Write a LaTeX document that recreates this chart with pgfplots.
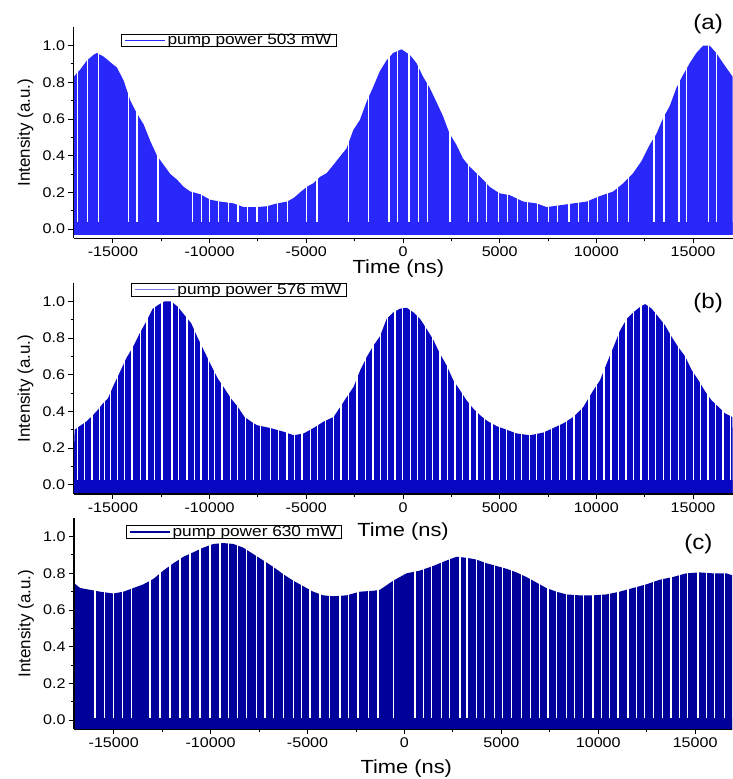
\documentclass[border=0pt]{standalone}
\usepackage{fontspec}
\setmainfont{Liberation Sans}
\newfontfamily\stf{Liberation Sans}[FakeStretch=1.15]
\usepackage{pgfplots}
\pgfplotsset{compat=1.18}
\definecolor{ca}{RGB}{40,40,250}
\definecolor{cb}{RGB}{8,8,195}
\definecolor{cc}{RGB}{0,0,155}

\pgfplotsset{
  panel/.style={
    scale only axis, width=659pt, height=211pt, anchor=south west,
    ymin=-0.05, ymax=1.1,
    clip mode=individual,
    axis x line=bottom, axis y line=left,
    axis line style={-, line width=1.2pt},
    axis on top,
    tick align=outside, major tick length=5pt, minor tick length=3pt,
    tick style={line width=1pt, black},
    xtick={-15000,-10000,-5000,0,5000,10000,15000}, minor x tick num=1,
    ytick={0,0.2,0.4,0.6,0.8,1.0}, minor y tick num=1,
    scaled x ticks=false,
    xticklabel style={/pgf/number format/1000 sep={}},
    yticklabel style={/pgf/number format/.cd, fixed, fixed zerofill, precision=1},
    /pgf/number format/assume math mode=true,
    ticklabel style={font=\fontsize{14}{16}\stf},
    xlabel={Time (ns)}, ylabel={Intensity (a.u.)},
    xlabel style={font=\fontsize{19}{21}\stf, anchor=center},
    ylabel style={font=\fontsize{17}{19}\selectfont, at={(axis description cs:-0.073,0.5)}, anchor=center},
    legend cell align=left,
    legend style={anchor=north west, draw=black, line width=0.9pt,
      font=\fontsize{15}{16}\stf, inner xsep=3pt, inner ysep=0pt,
      nodes={inner xsep=2pt, inner ysep=0.3pt}},
  },
  gap/.style={ycomb, white, line width=1.3pt, forget plot},
}

\begin{document}
\begin{tikzpicture}
\useasboundingbox (0,0) rectangle (733pt,779pt);

% ---------------- (a) 503 mW
\begin{axis}[panel, at={(73.5pt,540.7pt)}, xmin=-17040, xmax=17040,
  xlabel style={at={(axis description cs:0.493,-0.142)}},
  legend style={at={(axis description cs:0.072,0.97)}}]
\addplot[fill=ca, draw=none, forget plot] coordinates {
(-17100,-0.03)
(-17030,0.83) (-16690,0.87) (-16340,0.92) (-16000,0.95) (-15830,0.96) (-15480,0.94)
(-15140,0.91) (-14790,0.88) (-14450,0.81) (-14100,0.70) (-13760,0.63) (-13410,0.57)
(-13070,0.48) (-12720,0.40) (-12380,0.35) (-12030,0.30) (-11690,0.27) (-11340,0.23)
(-11000,0.205) (-10480,0.19) (-9970,0.16) (-9450,0.15) (-8760,0.14) (-8240,0.12)
(-7550,0.12) (-7030,0.125) (-6520,0.14) (-6000,0.15) (-5650,0.17) (-5325,0.20)
(-4980,0.23) (-4640,0.25) (-4290,0.285) (-3950,0.305) (-3600,0.35) (-3260,0.395)
(-2920,0.44) (-2570,0.54) (-2230,0.595) (-1880,0.695) (-1540,0.775) (-1200,0.86)
(-850,0.92) (-510,0.96) (-80,0.98) (350,0.95) (695,0.905) (1040,0.83) (1380,0.77)
(1720,0.695) (2070,0.615) (2410,0.52) (2760,0.46) (3100,0.385) (3450,0.34)
(3790,0.305) (4140,0.27) (4480,0.23) (5000,0.195) (5520,0.185) (6220,0.15)
(6910,0.14) (7430,0.12) (8117,0.13) (8800,0.14) (9490,0.15) (10180,0.18)
(10870,0.205) (11390,0.25) (11900,0.305) (12330,0.37) (12760,0.46) (13110,0.52)
(13450,0.605) (13790,0.67) (14140,0.77) (14480,0.84) (14830,0.905) (15170,0.96)
(15520,1.00) (15860,1.00) (16200,0.96) (16550,0.905) (17050,0.83)
(17100,-0.03)
};
\addplot[gap] coordinates {
(-16820,1.05) (-16310,1.05) (-15740,1.05) (-14190,1.05) (-13760,1.05) (-12670,1.05)
(-10880,1.05) (-10430,1.05) (-10020,1.05) (-9530,1.05) (-9020,1.05) (-8530,1.05)
(-8030,1.05) (-7550,1.05) (-7000,1.05) (-6480,1.05) (-5970,1.05) (-5000,1.05)
(-4450,1.05) (-2810,1.05) (-1780,1.05) (-720,1.05) (-280,1.05) (310,1.05) (790,1.05)
(1280,1.05) (2430,1.05) (3380,1.05) (3840,1.05) (4330,1.05) (4930,1.05) (5410,1.05)
(5910,1.05) (6430,1.05) (6950,1.05) (7520,1.05) (7980,1.05) (8590,1.05) (9070,1.05)
(9590,1.05) (10050,1.05) (10590,1.05) (11090,1.05) (11650,1.05) (12980,1.05)
(13500,1.05) (14270,1.05) (14670,1.05) (15790,1.05) (16220,1.05)
};
\addplot[fill=ca, draw=none, forget plot] coordinates {
(-17100,-0.03) (-17100,0.04) (17100,0.04) (17100,-0.03)
};
\addlegendimage{legend image code/.code={\draw[ca, line width=1.2pt] (0pt,0pt) -- (40pt,0pt);}}
\addlegendentry{pump power 503 mW}
\node[font=\fontsize{21}{23}\stf] at (axis description cs:0.963,1.017) {(a)};
\end{axis}

% ---------------- (b) 576 mW
\begin{axis}[panel, at={(73.5pt,285pt)}, xmin=-17040, xmax=17040,
  xlabel style={at={(axis description cs:0.50,-0.176)}},
  legend style={at={(axis description cs:0.087,1.0)}}]
\addplot[fill=cb, draw=none, forget plot] coordinates {
(-17100,-0.06)
(-16980,0.30) (-16720,0.32) (-16380,0.345) (-16030,0.38) (-15770,0.41) (-15510,0.445)
(-15260,0.47) (-15000,0.535) (-14660,0.61) (-14310,0.69) (-13970,0.75) (-13620,0.825)
(-13280,0.89) (-12940,0.96) (-12590,0.985) (-12330,1.00) (-11990,1.00) (-11640,0.97)
(-11300,0.925) (-10950,0.88) (-10610,0.80) (-10260,0.725) (-9920,0.65) (-9580,0.58)
(-9230,0.525) (-8890,0.47) (-8540,0.425) (-8200,0.37) (-7860,0.345) (-7550,0.325)
(-6880,0.31) (-6190,0.29) (-5650,0.27) (-5140,0.28) (-4620,0.31) (-4100,0.345)
(-3590,0.37) (-3240,0.425) (-2900,0.48) (-2550,0.535) (-2210,0.625) (-1860,0.70)
(-1520,0.76) (-1190,0.81) (-845,0.905) (-500,0.94) (-155,0.96) (190,0.965) (535,0.94)
(880,0.905) (1220,0.85) (1570,0.79) (1910,0.715) (2260,0.65) (2600,0.57) (2950,0.515)
(3290,0.46) (3640,0.415) (3980,0.38) (4330,0.35) (4840,0.32) (5360,0.30) (5880,0.28)
(6570,0.27) (7260,0.285) (7780,0.31) (8290,0.335) (8810,0.37) (9330,0.425)
(9840,0.515) (10190,0.57) (10530,0.66) (10880,0.75) (11220,0.84) (11570,0.905)
(11910,0.94) (12260,0.97) (12520,0.985) (12860,0.96) (13210,0.915) (13550,0.87)
(13900,0.805) (14240,0.75) (14590,0.70) (14930,0.625) (15280,0.57) (15620,0.51)
(15960,0.46) (16310,0.425) (16650,0.39) (17030,0.37)
(17100,-0.06)
};
\addplot[gap] coordinates {
(-16826,1.05) (-16481,1.05) (-16085,1.05) (-15706,1.05) (-15430,1.05) (-15137,1.05)
(-14757,1.05) (-14395,1.05) (-14016,1.05) (-13585,1.05) (-13240,1.05) (-12861,1.05)
(-12465,1.05) (-11947,1.05) (-11602,1.05) (-11172,1.05) (-10775,1.05) (-10447,1.05)
(-10051,1.05) (-9741,1.05) (-9361,1.05) (-8930,1.05) (-8551,1.05) (-8155,1.05)
(-7724,1.05) (-7379,1.05) (-6862,1.05) (-6431,1.05) (-6000,1.05) (-5620,1.05)
(-5224,1.05) (-4793,1.05) (-4413,1.05) (-4017,1.05) (-3586,1.05) (-3207,1.05)
(-2810,1.05) (-2379,1.05) (-1948,1.05) (-1552,1.05) (-1170,1.05) (-790,1.05)
(-410,1.05) (-20,1.05) (380,1.05) (750,1.05) (1150,1.05) (1520,1.05) (1920,1.05)
(2290,1.05) (2690,1.05) (3060,1.05) (3460,1.05) (3830,1.05) (4230,1.05) (4600,1.05)
(5000,1.05) (5370,1.05) (5770,1.05) (6140,1.05) (6540,1.05) (6910,1.05) (7310,1.05)
(7680,1.05) (8080,1.05) (8450,1.05) (8850,1.05) (9220,1.05) (9620,1.05) (9990,1.05)
(10390,1.05) (10760,1.05) (11160,1.05) (11530,1.05) (11930,1.05) (12300,1.05)
(12700,1.05) (13070,1.05) (13470,1.05) (13840,1.05) (14240,1.05) (14610,1.05)
(15010,1.05) (15380,1.05) (15780,1.05) (16150,1.05) (16550,1.05) (16920,1.05)
};
\addplot[fill=cb, draw=none, forget plot] coordinates {
(-17100,-0.06) (-17100,0.025) (17100,0.025) (17100,-0.06)
};
\addlegendimage{legend image code/.code={\draw[cb!55, line width=1.2pt] (0pt,0pt) -- (40pt,0pt);}}
\addlegendentry{pump power 576 mW}
\node[font=\fontsize{21}{23}\stf] at (axis description cs:0.963,0.905) {(b)};
\end{axis}

% ---------------- (c) 630 mW
\begin{axis}[panel, at={(74pt,49.7pt)}, xmin=-17050, xmax=16900,
  width=658pt,
  xlabel style={at={(axis description cs:0.505,-0.184)}},
  legend style={at={(axis description cs:0.079,0.967)}}]
\addplot[fill=cc, draw=none, forget plot] coordinates {
(-17100,-0.06)
(-17040,0.746) (-16730,0.72) (-16220,0.71) (-15700,0.70) (-15020,0.69) (-14500,0.70)
(-13980,0.72) (-13470,0.74) (-12950,0.77) (-12440,0.815) (-11920,0.855) (-11410,0.89)
(-10890,0.915) (-10380,0.94) (-9860,0.96) (-9350,0.965) (-8830,0.96) (-8320,0.94)
(-7800,0.905) (-7280,0.87) (-6770,0.835) (-6250,0.795) (-5740,0.76) (-5220,0.73)
(-4710,0.70) (-4190,0.68) (-3680,0.675) (-2990,0.68) (-2300,0.70) (-1610,0.705)
(-1270,0.71) (-580,0.76) (105,0.80) (795,0.815) (1480,0.84) (2170,0.87) (2680,0.89)
(3200,0.885) (3710,0.875) (4230,0.855) (4750,0.84) (5260,0.825) (5780,0.805)
(6290,0.78) (6810,0.75) (7320,0.72) (7840,0.70) (8360,0.685) (9040,0.68) (9730,0.68)
(10420,0.685) (11100,0.70) (11790,0.72) (12480,0.74) (13170,0.765) (13850,0.78)
(14540,0.80) (15230,0.805) (15920,0.80) (16610,0.80) (16900,0.79)
(16950,-0.06)
};
\addplot[gap] coordinates {
(-15960,0.97) (-15480,0.97) (-15020,0.97) (-14530,0.97) (-14070,0.97) (-13130,0.97)
(-12610,0.97) (-12090,0.97) (-11580,0.97) (-11060,0.97) (-10550,0.97) (-10030,0.97)
(-9520,0.97) (-9090,0.97) (-8620,0.97) (-8140,0.97) (-7630,0.97) (-7200,0.97)
(-6770,0.97) (-6250,0.97) (-5740,0.97) (-5310,0.97) (-4880,0.97) (-4360,0.97)
(-3850,0.97) (-3330,0.97) (-2900,0.97) (-2390,0.90) (-1870,0.90) (-1360,0.90)
(-580,0.90) (540,0.90) (970,0.90) (1400,0.90) (1910,0.90) (2340,0.90) (2860,0.97)
(3230,0.97) (3710,0.97) (4140,0.97) (4660,0.97) (5050,0.97) (5520,0.97) (6040,0.97)
(6500,0.97) (6980,0.97) (7410,0.97) (7840,0.97) (8350,0.97) (8780,0.97) (9250,0.97)
(9730,0.97) (10160,0.97) (10590,0.97) (11020,0.97) (11530,0.97) (11960,0.97)
(12390,0.97) (12860,0.97) (13300,0.97) (13760,0.97) (14190,0.97) (14620,0.97)
(15140,0.97) (15570,0.97) (16000,0.97) (16520,0.97)
};
\addplot[fill=cc, draw=none, forget plot] coordinates {
(-17100,-0.06) (-17100,0.012) (17100,0.012) (17100,-0.06)
};
\addlegendimage{legend image code/.code={\draw[cc, line width=1.2pt] (0pt,0pt) -- (40pt,0pt);}}
\addlegendentry{pump power 630 mW}
\node[font=\fontsize{21}{23}\stf] at (axis description cs:0.949,0.876) {(c)};
\end{axis}
\end{tikzpicture}
\end{document}
